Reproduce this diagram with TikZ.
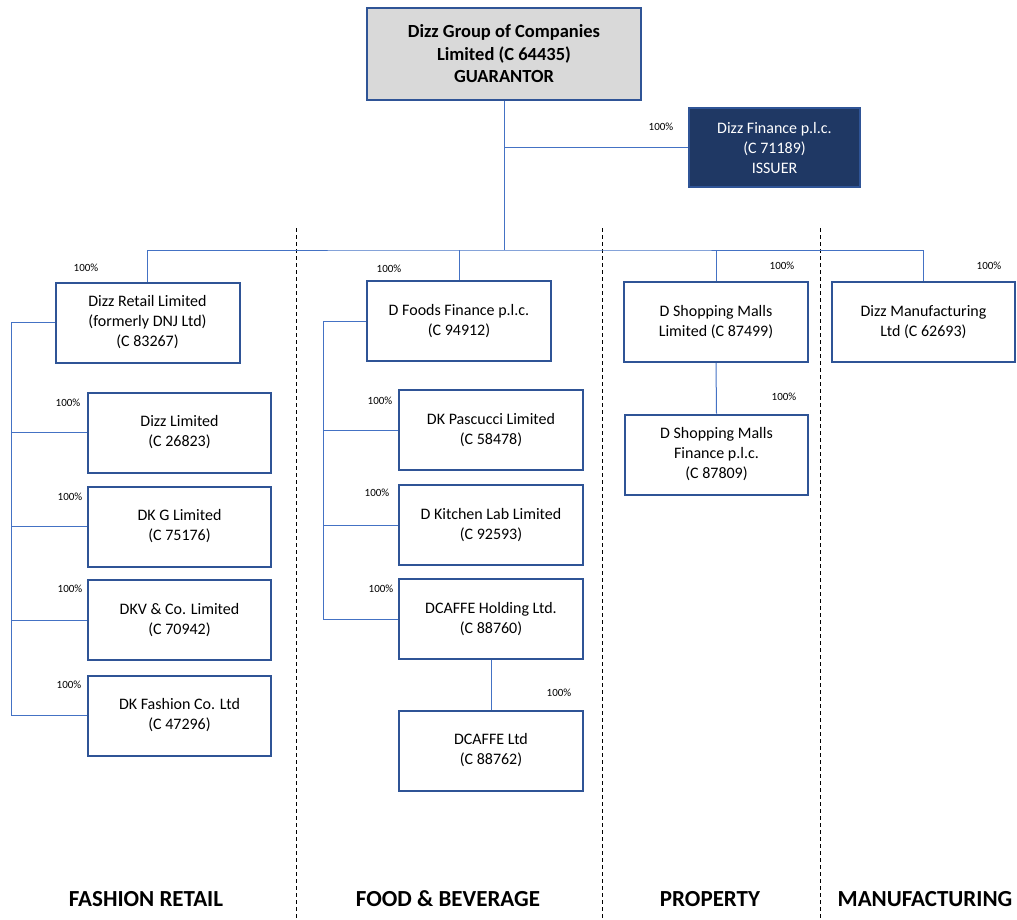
\documentclass[tikz,border=0pt]{standalone}
\usepackage{fontspec}
\setmainfont{Carlito}
\usetikzlibrary{positioning}

\definecolor{boxblue}{HTML}{2F5496}
\definecolor{linkblue}{HTML}{4472C4}
\definecolor{navy}{HTML}{1F3864}
\definecolor{lightgrey}{HTML}{D9D9D9}

\begin{document}
\begin{tikzpicture}[
  x=1pt, y=-1pt,
  every node/.style={font=\fontsize{16}{20}\selectfont, align=center},
  co/.style={rectangle, draw=boxblue, line width=2pt, fill=white, inner sep=0pt, minimum width=184pt, minimum height=80pt},
  sub/.style={co, minimum width=183pt},
  grp/.style={co, fill=lightgrey, minimum width=274pt, minimum height=92pt, font=\fontsize{18.5}{22.5}\selectfont\bfseries},
  iss/.style={co, fill=navy, text=white, minimum width=171pt, minimum height=79pt},
  pct/.style={font=\fontsize{11}{12}\selectfont},
  sector/.style={font=\fontsize{23}{26}\selectfont\bfseries},
  link/.style={draw=linkblue, line width=1pt},
  divider/.style={dashed, line width=0.9pt, dash pattern=on 4pt off 3pt}
]
\useasboundingbox (0,0) rectangle (1017,919);

% sector dividers
\draw[divider] (296,228) -- (296,919);
\draw[divider] (602,228) -- (602,919);
\draw[divider] (820,228) -- (820,919);

% top of the group
\node[grp] (guar) at (504,54) {Dizz Group of Companies\\Limited (C 64435)\\GUARANTOR};
\node[iss] (iss) at (774.5,147.5) {Dizz Finance p.l.c.\\(C 71189)\\ISSUER};

% first level
\node[co] (retail) at (147.5,322.5) {Dizz Retail Limited\\(formerly DNJ Ltd)\\(C 83267)};
\node[co] (foods) at (459,321) {D Foods Finance p.l.c.\\(C 94912)};
\node[co] (malls) at (716,322) {D Shopping Malls\\Limited (C 87499)};
\node[co, minimum width=183pt] (mfg) at (923.5,322) {Dizz Manufacturing\\Ltd (C 62693)};

% fashion retail
\node[sub] (dizzltd) at (179.5,432.5) {Dizz Limited\\(C 26823)};
\node[sub] (dkg) at (179.5,526.5) {DK G Limited\\(C 75176)};
\node[sub] (dkv) at (179.5,620) {DKV \& Co. Limited\\(C 70942)};
\node[sub] (dkfashion) at (179.5,715.5) {DK Fashion Co. Ltd\\(C 47296)};

% food & beverage
\node[co] (pascucci) at (491,430) {DK Pascucci Limited\\(C 58478)};
\node[co] (kitchen) at (491,525) {D Kitchen Lab Limited\\(C 92593)};
\node[co] (dcaffeh) at (491,619) {DCAFFE Holding Ltd.\\(C 88760)};
\node[co] (dcaffe) at (491,750.5) {DCAFFE Ltd\\(C 88762)};

% property
\node[sub] (mallsfin) at (716.5,454.5) {D Shopping Malls\\Finance p.l.c.\\(C 87809)};

% connectors
\coordinate (bus) at (504,250);
\coordinate (rtrunk) at (11,322.5);
\coordinate (ftrunk) at (323,321);
\draw[link] (guar.south) -- (bus);
\draw[link] (guar.south) |- (iss.west);
\draw[link] (retail.north) |- (bus) -| (mfg.north);
\draw[link] (foods.north) -- (foods.north |- bus);
\draw[link] (malls.north) -- (malls.north |- bus);
\draw[link] (retail.west) -- (rtrunk) |- (dkfashion.west);
\foreach \k in {dizzltd, dkg, dkv}
  \draw[link] (rtrunk |- \k.west) -- (\k.west);
\draw[link] (foods.west) -- (ftrunk) |- (dcaffeh.west);
\foreach \k in {pascucci, kitchen}
  \draw[link] (ftrunk |- \k.west) -- (\k.west);
\draw[link] (dcaffeh.south) -- (dcaffe.north);
\draw[link] (malls.south) -- (mallsfin.north);

% ownership labels
\node[pct] (p1) at (661,127) {100\%};
\node[pct] (p2) at (86,268) {100\%};
\node[pct] (p3) at (389,269) {100\%};
\node[pct] (p4) at (782,266) {100\%};
\node[pct] (p5) at (989,266) {100\%};
\node[pct] (p6) at (784,397) {100\%};
\node[pct] (p7) at (68,403) {100\%};
\node[pct] (p8) at (70,497) {100\%};
\node[pct] (p9) at (70,589) {100\%};
\node[pct] (p10) at (69,685) {100\%};
\node[pct] (p11) at (380,401) {100\%};
\node[pct] (p12) at (377,493) {100\%};
\node[pct] (p13) at (381,589) {100\%};
\node[pct] (p14) at (559,693) {100\%};

% sectors
\node[sector] (s1) at (146,899) {FASHION RETAIL};
\node[sector] (s2) at (448,899) {FOOD \& BEVERAGE};
\node[sector] (s3) at (710,899) {PROPERTY};
\node[sector] (s4) at (925,899) {MANUFACTURING};
\end{tikzpicture}
\end{document}
